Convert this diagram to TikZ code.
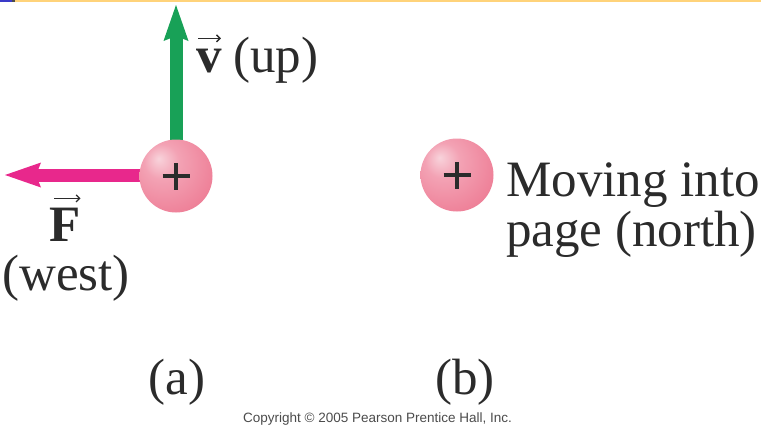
\documentclass[tikz,border=0pt]{standalone}
\usepackage{fontspec}
\setmainfont{Liberation Serif}
\newfontfamily\cpfont{Liberation Sans}
\usetikzlibrary{arrows.meta}
\definecolor{txt}{HTML}{2B2B2B}
\definecolor{vgreen}{HTML}{18A157}
\definecolor{fmag}{HTML}{E8288C}
\definecolor{topy}{HTML}{FFD37A}
\definecolor{topb}{HTML}{3A3AC8}
\definecolor{pinkL}{HTML}{F8D3DB}
\definecolor{pinkM}{HTML}{F3A2B4}
\definecolor{pinkN}{HTML}{EE7F97}
\definecolor{pinkD}{HTML}{E4607D}
\pgfdeclareradialshading{pinkball}{\pgfpoint{-12bp}{12bp}}{color(0bp)=(pinkL); color(12bp)=(pinkM); color(34bp)=(pinkN); color(58bp)=(pinkD); color(70bp)=(pinkD)}
\tikzset{
  chargeball/.style={circle, minimum size=73pt, inner sep=0pt, shading=pinkball,
    path picture={\draw[line width=4.2pt, txt] (path picture bounding box.center) +(-13.5pt,0) -- +(13.5pt,0)
      (path picture bounding box.center) +(0,-13.5pt) -- +(0,13.5pt);}},
  vecarrow/.style={line width=13pt, -{Stealth[length=36pt,width=25pt,inset=5pt,line width=0pt]}},
  bigtext/.style={font=\fontsize{51}{51}\selectfont, text=txt, inner sep=0pt, anchor=base west},
  vecsym/.style={draw=txt, line width=1.3pt, -{Straight Barb[length=3.5pt,width=7pt,line width=1.3pt]}},
}
\begin{document}
\begin{tikzpicture}[x=1pt,y=-1pt]
\useasboundingbox (0,0) rectangle (761,429);
\fill[white] (0,0) rectangle (761,429);
% top rule
\fill[topb] (0,0) rectangle (12,1.5);
\fill[black!70] (12,0) rectangle (15,1.5);
\fill[topy] (15,0) rectangle (761,1.5);
% (a)
\coordinate (ca) at (176,176);
\coordinate (vtip) at (176,5);
\coordinate (ftip) at (5,175);
\draw[vecarrow, vgreen] (ca) -- (vtip);
\draw[vecarrow, fmag] (ca |- ftip) -- (ftip);
\node[chargeball] (qa) at (ca) {};
\node[bigtext] (vlet) at (196,72) {\textbf{v}};
\draw[vecsym] ([yshift=10pt,xshift=2pt]vlet.north west) -- ([yshift=10pt,xshift=-1pt]vlet.north east);
\node[bigtext] (vlab) at (233,72) {(up)};
\node[bigtext] (flab) at (49,241) {\textbf{F}};
\draw[vecsym] ([yshift=9pt,xshift=5pt]flab.north west) -- ([yshift=9pt]flab.north east);
\node[bigtext] (west) at (2,290) {(west)};
% (b)
\node[chargeball] (qb) at (457,175) {};
\node[bigtext] (mov1) at (506,196) {Moving into};
\node[bigtext] (mov2) at (506,246) {page (north)};
% captions
\node[bigtext, anchor=base] (capa) at (177,394) {(a)};
\node[bigtext, anchor=base] (capb) at (465,394) {(b)};
\node[font=\cpfont\fontsize{13.5}{14}\selectfont, text=black!70, inner sep=0pt, anchor=base west] (copy) at (243,422) {Copyright © 2005 Pearson Prentice Hall, Inc.};
\end{tikzpicture}
\end{document}
